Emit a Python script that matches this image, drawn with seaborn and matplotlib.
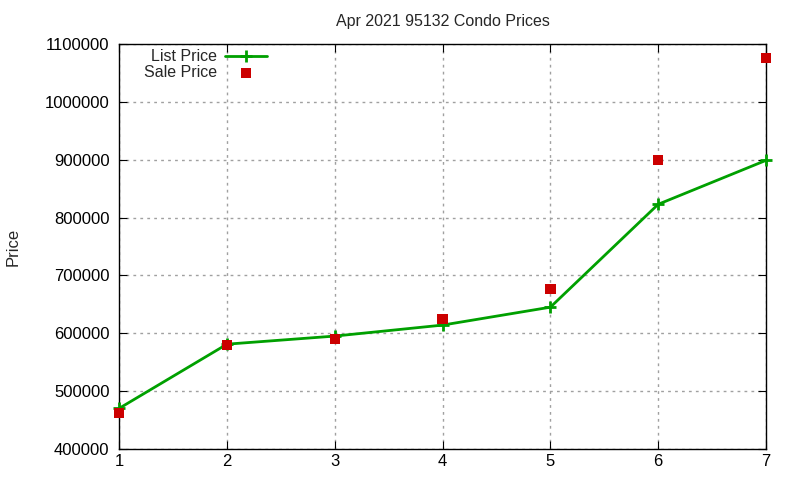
import pandas as pd
import seaborn as sns
import matplotlib
matplotlib.use("Agg")
import matplotlib.pyplot as plt

bedrooms = [1, 2, 3, 4, 5, 6, 7]
list_price = [470000, 581000, 595000, 614000, 645000, 823000, 899000]
sale_price = [462000, 580000, 590000, 625000, 676000, 900000, 1076000]

df = pd.DataFrame({"x": bedrooms, "list": list_price, "sale": sale_price})

sns.set_style("ticks")
plt.rcParams['font.family'] = ['Liberation Sans', 'DejaVu Sans']

fig = plt.figure(figsize=(8, 4.8), dpi=100)
ax = fig.add_axes([0.149, 0.065, 0.8085, 0.843])

sns.lineplot(data=df, x="x", y="list", ax=ax, color="#00a000", linewidth=2,
             marker="+", markersize=9, markeredgewidth=2, markeredgecolor="#00a000",
             label="List Price", clip_on=False, zorder=3)
sns.scatterplot(data=df, x="x", y="sale", ax=ax, color="#cc0000", marker="s",
                s=55, edgecolor="none", label="Sale Price", zorder=4, clip_on=False)

ax.set_xlim(1, 7)
ax.set_ylim(400000, 1100000)
ax.set_xticks(bedrooms)
ax.set_yticks(range(400000, 1100001, 100000))
ax.ticklabel_format(axis="y", style="plain")
ax.grid(True, color="#a0a0a0", linestyle=(0, (2, 3)), linewidth=1)
ax.tick_params(direction="in", top=True, right=True, length=6, labelsize=12,
               colors="black")
ax.tick_params(axis="y", pad=7)
ax.tick_params(axis="x", pad=4)
for s in ax.spines.values():
    s.set_color("black")
    s.set_linewidth(1)

ax.set_xlabel("")
ax.set_ylabel("Price", fontsize=12)
ax.yaxis.set_label_coords(-0.152, 0.5)
ax.set_title("Apr 2021 95132 Condo Prices", fontsize=11.5, pad=13)

leg = ax.legend(loc="upper left", bbox_to_anchor=(0.021, 1.015), frameon=False,
                markerfirst=False, fontsize=11.5, handlelength=2.6, borderpad=0.2,
                labelspacing=0.05, handletextpad=0.5)
for t in leg.get_texts():
    t.set_ha("right")

fig.savefig("out.png", dpi=100)
